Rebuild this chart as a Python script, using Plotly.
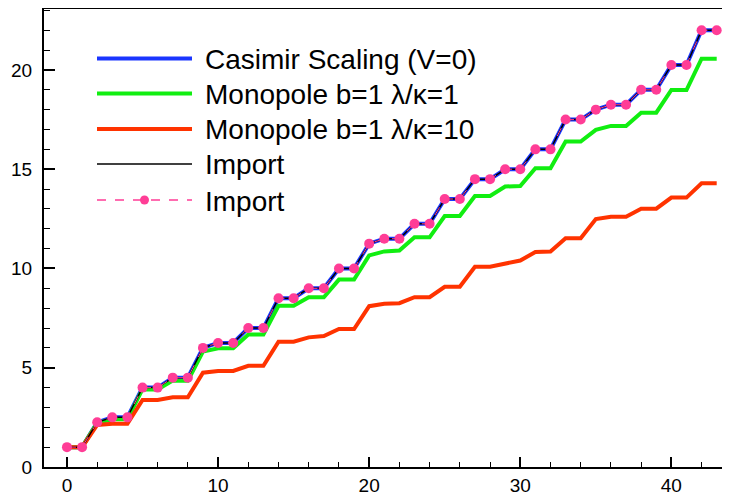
import plotly.graph_objects as go

x_index = list(range(44))

casimir = [1, 1, 2.25, 2.5, 2.5, 4, 4, 4.5, 4.5, 6, 6.25, 6.25, 7, 7, 8.5, 8.5,
           9, 9, 10, 10, 11.25, 11.5, 11.5, 12.25, 12.25, 13.5, 13.5, 14.5, 14.5,
           15, 15, 16, 16, 17.5, 17.5, 18, 18.25, 18.25, 19, 19, 20.25, 20.25, 22, 22]

mono_k1 = [1.0, 1.0, 2.22, 2.4, 2.4, 3.92, 3.9, 4.35, 4.35, 5.81, 5.98, 5.98,
           6.67, 6.67, 8.12, 8.12, 8.55, 8.55, 9.44, 9.44, 10.66, 10.86, 10.9,
           11.57, 11.57, 12.64, 12.64, 13.65, 13.65, 14.13, 14.15, 15.05, 15.05,
           16.39, 16.39, 16.98, 17.18, 17.18, 17.85, 17.85, 18.99, 18.99, 20.57, 20.57]

mono_k10 = [1.0, 1.0, 2.12, 2.18, 2.18, 3.38, 3.38, 3.51, 3.51, 4.75, 4.84, 4.84,
            5.1, 5.1, 6.31, 6.31, 6.53, 6.6, 6.95, 6.95, 8.1, 8.22, 8.25, 8.55,
            8.55, 9.08, 9.08, 10.09, 10.09, 10.26, 10.4, 10.83, 10.85, 11.52, 11.52,
            12.49, 12.61, 12.61, 13.01, 13.01, 13.57, 13.57, 14.29, 14.29]

names = ["Casimir Scaling (V=0)", "Monopole b=1 \u03bb/\u03ba=1",
         "Monopole b=1 \u03bb/\u03ba=10", "Import", "Import"]

x_ticks = [0, 10, 20, 30, 40]
y_ticks = [0, 5, 10, 15, 20]

FONT = "Liberation Sans, Arial, Helvetica, sans-serif"
BLUE, GREEN, RED, BLACK, PINK = "#1a35ff", "#11ee11", "#ff3300", "black", "#ff3d96"

fig = go.Figure()
fig.add_trace(go.Scatter(x=x_index, y=casimir, mode="lines", name=names[0],
                         line=dict(color=BLUE, width=4)))
fig.add_trace(go.Scatter(x=x_index, y=mono_k1, mode="lines", name=names[1],
                         line=dict(color=GREEN, width=4)))
fig.add_trace(go.Scatter(x=x_index, y=mono_k10, mode="lines", name=names[2],
                         line=dict(color=RED, width=4)))
fig.add_trace(go.Scatter(x=x_index, y=casimir, mode="lines", name=names[3],
                         line=dict(color=BLACK, width=1.5)))
fig.add_trace(go.Scatter(x=x_index, y=casimir, mode="lines+markers", name=names[4],
                         line=dict(color=PINK, width=1, dash="dash"),
                         marker=dict(color=PINK, size=10)))

# Page body has an 8px margin; plot area spans x 44..730, y 9..467 in the window.
W, H = 722, 486
ML, MT, MB = 36, 1, 27
plot_w = W - ML
plot_h = H - MT - MB


def px_to_paper_x(px):
    return (px - 44) / plot_w


def px_to_paper_y(py):
    return (467 - py) / plot_h


# Manual legend (row centers in window pixels)
leg_rows = [58.5, 93.5, 129, 164, 200]
leg_styles = [
    dict(color=BLUE, width=4, dash="solid"),
    dict(color=GREEN, width=4, dash="solid"),
    dict(color=RED, width=4, dash="solid"),
    dict(color=BLACK, width=1.4, dash="solid"),
    dict(color=PINK, width=1.3, dash="dash"),
]
x0, x1, xt = px_to_paper_x(97), px_to_paper_x(192), px_to_paper_x(203)
shapes = []
annotations = []
for row, style, name in zip(leg_rows, leg_styles, names):
    yy = px_to_paper_y(row)
    shapes.append(dict(type="line", xref="paper", yref="paper", x0=x0, x1=x1,
                       y0=yy, y1=yy, line=style))
    annotations.append(dict(xref="paper", yref="paper", x=xt, y=yy, text=name,
                            showarrow=False, xanchor="left", yanchor="middle",
                            yshift=-1,
                            font=dict(family=FONT, size=28, color="black")))
# marker dot on the pink legend entry
cx, cy, r = 144.5, leg_rows[4], 4.5
shapes.append(dict(type="circle", xref="paper", yref="paper",
                   x0=px_to_paper_x(cx - r), x1=px_to_paper_x(cx + r),
                   y0=px_to_paper_y(cy + r), y1=px_to_paper_y(cy - r),
                   fillcolor=PINK, line=dict(color=PINK, width=0)))

fig.update_layout(
    width=W, height=H,
    margin=dict(l=ML, r=0, t=MT, b=MB, autoexpand=False),
    paper_bgcolor="white", plot_bgcolor="white",
    font=dict(family=FONT, size=19, color="black"),
    showlegend=False,
    shapes=shapes,
    annotations=annotations,
    xaxis=dict(range=[-1.52, 43.88], tickmode="array", tickvals=x_ticks,
               ticks="inside", ticklen=10, tickwidth=2, tickcolor="black",
               showline=True, linewidth=2, linecolor="black", mirror=True,
               showgrid=False, zeroline=False,
               minor=dict(dtick=2, tick0=0, ticks="inside", ticklen=5, tickwidth=1,
                          tickcolor="black", showgrid=False),
               tickfont=dict(family=FONT, size=19)),
    yaxis=dict(range=[0, 23.07], tickmode="array", tickvals=y_ticks,
               ticks="inside", ticklen=11, tickwidth=2, tickcolor="black",
               showline=True, linewidth=2, linecolor="black",
               showgrid=False, zeroline=False,
               minor=dict(dtick=1, tick0=0, ticks="inside", ticklen=6, tickwidth=1,
                          tickcolor="black", showgrid=False),
               ticklabelstandoff=6,
               tickfont=dict(family=FONT, size=19)),
)

fig.write_html("out.html")
